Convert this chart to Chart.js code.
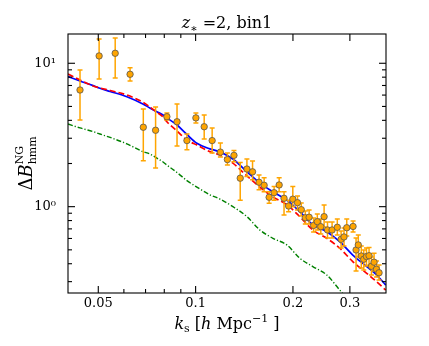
<!DOCTYPE html>
<html><head><meta charset="utf-8">
<script src="https://cdn.jsdelivr.net/npm/chart.js@4.4.0/dist/chart.umd.min.js"></script>
<style>html,body{margin:0;padding:0;background:#fff;}</style>
</head><body>
<canvas id="c" width="429" height="346"></canvas>
<script>
// ---- data ----
const kData = [0.0439,0.0503,0.0564,0.0627,0.0689,0.0752,0.0815,0.0876,0.0940,0.1002,0.1063,0.1125,0.1193,0.1254,0.1314,0.1374,0.1441,0.1500,0.1571,0.1629,0.1688,0.1749,0.1813,0.1877,0.1939,0.1998,0.2066,0.2122,0.2184,0.2244,0.2317,0.2379,0.2439,0.2497,0.2558,0.2643,0.2743,0.2818,0.2877,0.2934,0.3069,0.3135,0.3185,0.3254,0.3312,0.3376,0.3439,0.3498,0.3564,0.3625,0.3693];
const bData = [6.51,11.25,11.74,8.38,3.58,3.41,4.24,3.91,2.89,4.16,3.61,2.89,2.40,2.13,2.28,1.58,1.83,1.75,1.48,1.41,1.163,1.252,1.417,1.144,1.011,1.128,1.066,0.953,0.837,0.844,0.740,0.786,0.725,0.852,0.688,0.688,0.718,0.592,0.615,0.713,0.728,0.499,0.541,0.453,0.430,0.449,0.455,0.384,0.410,0.366,0.346];
const bErrHi = [8.98,14.77,15.02,9.32,4.80,4.96,4.50,5.20,3.21,4.50,4.36,3.54,2.78,2.37,2.46,2.03,2.15,2.08,1.66,1.59,1.27,1.38,1.59,1.27,1.11,1.38,1.187,1.061,0.933,0.948,0.834,0.889,0.821,1.028,0.782,0.782,0.821,0.677,0.710,0.821,0.795,0.605,0.635,0.532,0.499,0.515,0.52,0.445,0.474,0.418,0.392];
const bErrLo = [4.02,7.77,7.90,7.53,2.09,1.86,4.02,2.65,2.49,3.83,2.97,2.37,2.22,1.95,2.06,1.11,1.62,1.54,1.31,1.27,1.056,1.11,1.27,0.875,0.923,1.0,0.948,0.861,0.758,0.757,0.666,0.688,0.645,0.722,0.605,0.605,0.635,0.515,0.532,0.625,0.666,0.356,0.445,0.373,0.362,0.386,0.39,0.334,0.356,0.323,0.308];

const kModel = [0.0403,0.0439,0.0482,0.0506,0.0544,0.0613,0.0687,0.0722,0.0759,0.0793,0.0815,0.0876,0.0940,0.1009,0.1107,0.1189,0.1304,0.1441,0.1580,0.1734,0.1915,0.2100,0.2304,0.2545,0.2792,0.3063,0.3383,0.3607,0.3873];
const modelBlue = [8.07,7.53,6.98,6.69,6.36,5.84,5.20,4.88,4.59,4.36,4.16,3.71,3.19,2.77,2.53,2.41,2.15,1.75,1.46,1.27,1.11,0.923,0.746,0.669,0.570,0.460,0.382,0.339,0.284];
const modelRed = [8.42,7.65,6.95,6.73,6.46,6.01,5.35,4.96,4.55,4.22,3.91,3.37,2.92,2.69,2.42,2.29,2.01,1.64,1.37,1.17,1.03,0.852,0.688,0.602,0.513,0.414,0.343,0.303,0.262];
const kGreen = [0.0403,0.0439,0.0482,0.0506,0.0544,0.0613,0.0687,0.0722,0.0759,0.0793,0.0815,0.0876,0.0940,0.1009,0.1107,0.1189,0.1304,0.1441,0.1580,0.1734,0.1915,0.2100,0.2304,0.2545,0.2792,0.3063];
const modelGreen = [3.77,3.54,3.34,3.21,3.04,2.74,2.42,2.33,2.18,2.05,1.95,1.73,1.52,1.37,1.21,1.13,1.00,0.852,0.688,0.602,0.541,0.437,0.382,0.334,0.262,0.206];

const xTickMajor = [0.05, 0.1, 0.2, 0.3];
const xTickLabels = ['0.05', '0.1', '0.2', '0.3'];
const xTickMinor = [0.06, 0.07, 0.08, 0.09];
const yTickMajor = [1, 10];
const yTickLabels = ['10\u2070', '10\u00B9'];
const yTickMinor = [0.3,0.4,0.5,0.6,0.7,0.8,0.9,2,3,4,5,6,7,8,9];

const SERIF = '"DejaVu Serif", "Liberation Serif", serif';

function pts(xs, ys){ return xs.map((v,i)=>({x:v, y:ys[i]})); }

function drawRich(ctx, segs, cx, cy){
  let w = 0;
  segs.forEach(s=>{ ctx.font = s.f; s.w = ctx.measureText(s.t).width; if(s.adv!==false) w += s.w; });
  let xx = cx - w/2;
  ctx.textAlign='left'; ctx.textBaseline='alphabetic';
  segs.forEach(s=>{ ctx.font = s.f; ctx.fillText(s.t, xx, cy + (s.dy||0)); if(s.adv!==false) xx += s.w; });
}

const errorBars = {
  id:'errorBars',
  beforeDatasetDraw(chart, args){
    if(args.index !== 0) return;
    const {ctx, scales:{x,y}} = chart;
    ctx.save();
    ctx.strokeStyle = '#FFA500'; ctx.lineWidth = 1.5;
    kData.forEach((k,i)=>{
      const px = x.getPixelForValue(k);
      const p1 = y.getPixelForValue(bErrHi[i]);
      const p2 = y.getPixelForValue(bErrLo[i]);
      ctx.beginPath();
      ctx.moveTo(px,p1); ctx.lineTo(px,p2);
      ctx.moveTo(px-2.5,p1); ctx.lineTo(px+2.5,p1);
      ctx.moveTo(px-2.5,p2); ctx.lineTo(px+2.5,p2);
      ctx.stroke();
    });
    ctx.restore();
  }
};

const frame = {
  id:'frame',
  afterDraw(chart){
    const {ctx, chartArea:a, scales:{x,y}} = chart;
    ctx.save();
    ctx.strokeStyle='#000'; ctx.lineWidth=1.1;
    ctx.strokeRect(a.left, a.top, a.right-a.left, a.bottom-a.top);
    const t=(px,py,dx,dy)=>{ctx.beginPath();ctx.moveTo(px,py);ctx.lineTo(px+dx,py+dy);ctx.stroke();};
    xTickMajor.forEach(v=>{const p=x.getPixelForValue(v); t(p,a.bottom,0,-7); t(p,a.top,0,7);});
    xTickMinor.forEach(v=>{const p=x.getPixelForValue(v); t(p,a.bottom,0,-4); t(p,a.top,0,4);});
    yTickMajor.forEach(v=>{const p=y.getPixelForValue(v); t(a.left,p,7,0); t(a.right,p,-7,0);});
    yTickMinor.forEach(v=>{const p=y.getPixelForValue(v); t(a.left,p,4,0); t(a.right,p,-4,0);});
    ctx.fillStyle='#000';
    const cx = (a.left+a.right)/2;
    // title
    drawRich(ctx, [
      {t:'z', f:'italic 16px '+SERIF},
      {t:'\u2217', f:'11px '+SERIF, dy:4},
      {t:' =2, bin1', f:'16px '+SERIF}
    ], cx, 28);
    // x label
    drawRich(ctx, [
      {t:'k', f:'italic 16px '+SERIF},
      {t:'s', f:'11px '+SERIF, dy:3},
      {t:' [', f:'16px '+SERIF},
      {t:'h', f:'italic 16px '+SERIF},
      {t:' Mpc', f:'16px '+SERIF},
      {t:'\u22121', f:'11px '+SERIF, dy:-7},
      {t:' ]', f:'16px '+SERIF}
    ], cx, 329);
    // y label
    ctx.save();
    ctx.translate(32, (a.top+a.bottom)/2);
    ctx.rotate(-Math.PI/2);
    drawRich(ctx, [
      {t:'\u0394', f:'18px '+SERIF},
      {t:'B', f:'italic 18px '+SERIF},
      {t:'NG', f:'11px '+SERIF, dy:-9, adv:false},
      {t:'hmm', f:'11px '+SERIF, dy:4}
    ], 0, 0);
    ctx.restore();
    ctx.restore();
  }
};

new Chart(document.getElementById('c').getContext('2d'), {
  type:'scatter',
  data:{ datasets:[
    {label:'data', data:pts(kData,bData), backgroundColor:'#FFA500', borderColor:'#555', borderWidth:0.8, pointRadius:3.2, order:0},
    {label:'model', data:pts(kModel,modelBlue), showLine:true, borderColor:'#0000FF', borderWidth:1.7, pointRadius:0, cubicInterpolationMode:'monotone', order:3},
    {label:'model2', data:pts(kModel,modelRed), showLine:true, borderColor:'#FF0000', borderWidth:1.7, borderDash:[6,3], pointRadius:0, cubicInterpolationMode:'monotone', order:2},
    {label:'model3', data:pts(kGreen,modelGreen), showLine:true, borderColor:'#008000', borderWidth:1.4, borderDash:[5,2,1.2,2], pointRadius:0, cubicInterpolationMode:'monotone', order:1}
  ]},
  options:{
    responsive:false, devicePixelRatio:1, animation:false,
    layout:{padding:{left:0, right:43, top:34, bottom:0}},
    plugins:{legend:{display:false}, tooltip:{enabled:false}},
    scales:{
      x:{type:'logarithmic', min:0.0403, max:0.388,
        grid:{display:false, drawTicks:false}, border:{display:false},
        afterBuildTicks:s=>{s.ticks = xTickMajor.map(v=>({value:v}));},
        afterFit:s=>{s.height=53;},
        ticks:{autoSkip:false, maxRotation:0, padding:3, color:'#000', font:{family:SERIF, size:13},
          callback:(v,i)=>xTickLabels[i]}
      },
      y:{type:'logarithmic', min:0.25, max:16,
        grid:{display:false, drawTicks:false}, border:{display:false},
        afterBuildTicks:s=>{s.ticks = yTickMajor.map(v=>({value:v}));},
        afterFit:s=>{s.width=68;},
        ticks:{autoSkip:false, padding:12, color:'#000', font:{family:SERIF, size:13},
          callback:(v,i)=>yTickLabels[i]}
      }
    }
  },
  plugins:[errorBars, frame]
});
</script>
</body></html>
